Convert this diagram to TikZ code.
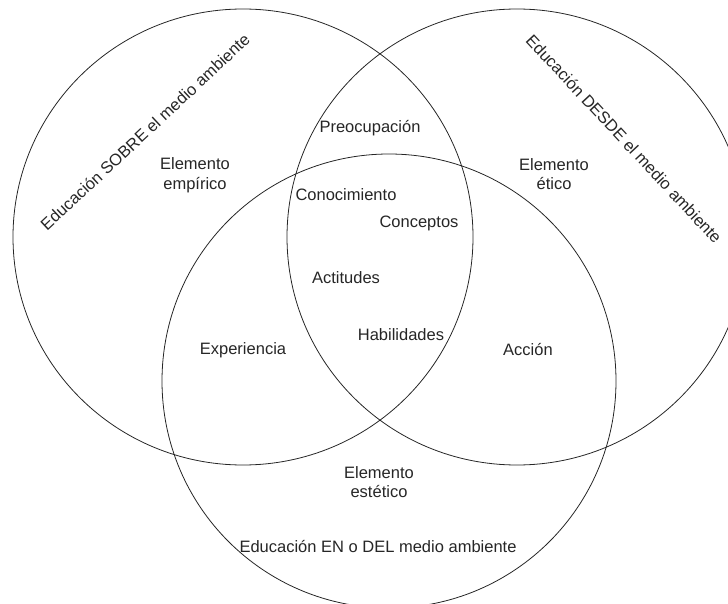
\documentclass[tikz,border=0pt]{standalone}
\usepackage{fontspec}
\setmainfont{Liberation Sans}

\begin{document}
\begin{tikzpicture}[x=1pt,y=-1pt,
    ring/.style={draw=black!85,line width=0.8pt},
    lbl/.style={text=black!85,font=\fontsize{16.5}{19.5}\selectfont,align=center,inner sep=0pt}]
     \useasboundingbox (0,0) rectangle (728,604);
     % the three circles
     \draw[ring] (243,237) ellipse [x radius=230, y radius=228];
     \draw[ring] (517,237) ellipse [x radius=230, y radius=228];
     \draw[ring] (389,381) ellipse [x radius=227, y radius=227];
     % titles
     \node[lbl,rotate=43] (sobre) at (145,132) {Educación SOBRE el medio ambiente};
     \node[lbl,rotate=-47] (desde) at (624,139) {Educación DESDE el medio ambiente};
     \node[lbl] (en) at (378,547) {Educación EN o DEL medio ambiente};
     % elements
     \node[lbl] (empirico) at (195,175) {Elemento\\empírico};
     \node[lbl] (etico) at (554,174) {Elemento\\ético};
     \node[lbl] (estetico) at (379,482) {Elemento\\estético};
     % overlaps
     \node[lbl] (preocupacion) at (370,128) {Preocupación};
     \node[lbl] (conocimiento) at (346,195) {Conocimiento};
     \node[lbl] (conceptos) at (419,223) {Conceptos};
     \node[lbl] (actitudes) at (346,278) {Actitudes};
     \node[lbl] (habilidades) at (401,335) {Habilidades};
     \node[lbl] (experiencia) at (243,350) {Experiencia};
     \node[lbl] (accion) at (528,350) {Acción};
\end{tikzpicture}
\end{document}
